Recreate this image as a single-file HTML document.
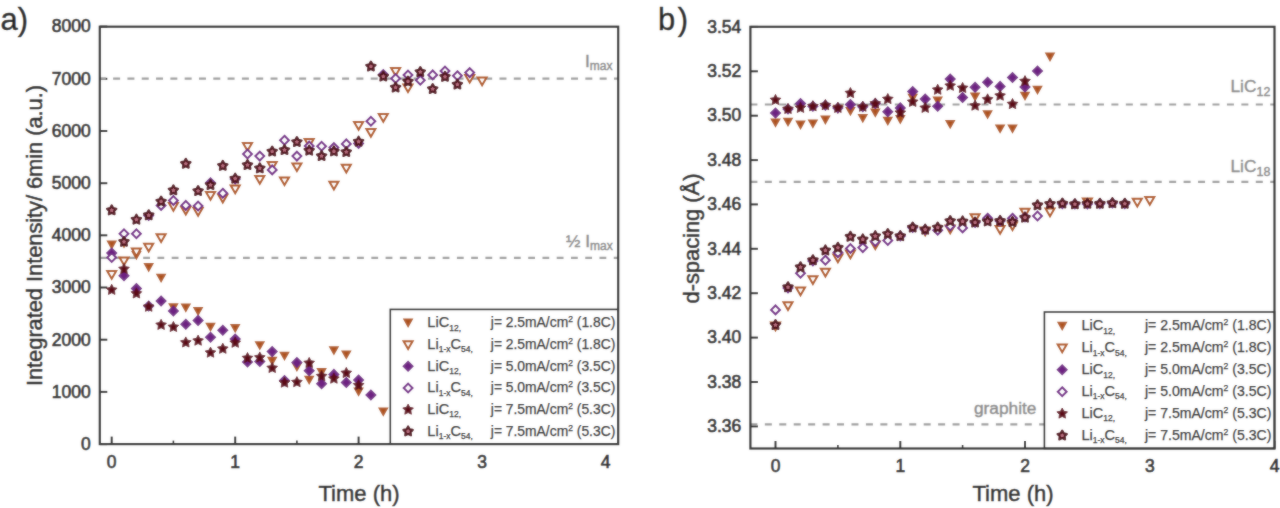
<!DOCTYPE html>
<html><head><meta charset="utf-8"><style>
html,body{margin:0;padding:0;background:#fff;width:1280px;height:508px;overflow:hidden}
svg{display:block}
text{font-family:"Liberation Sans", sans-serif}
.tk{font-size:17.5px;fill:#222;stroke:#222;stroke-width:0.65px}
.ti{font-size:22px;fill:#1a1a1a;stroke:#1a1a1a;stroke-width:0.5px}
.gl{font-size:17.3px;fill:#858585;stroke:#858585;stroke-width:0.4px}
.lg{font-size:14.6px;fill:#262626;stroke:#262626;stroke-width:0.25px}
.pl{font-size:31px;fill:#111;stroke:#111;stroke-width:0.4px}
</style></head><body>
<svg width="1280" height="508" viewBox="0 0 1280 508">

<defs>
 <filter id="bl" x="0" y="0" width="1280" height="508" filterUnits="userSpaceOnUse"><feGaussianBlur stdDeviation="1"/></filter>
 <polygon id="ft" points="-5.3,-4.3 5.3,-4.3 0,5.0" fill="#ad521c"/>
 <polygon id="ot" points="-4.5,-3.4 4.5,-3.4 0,4.3" fill="#fff" stroke="#ad521c" stroke-width="2" stroke-linejoin="miter"/>
 <polygon id="fd" points="0,-5.8 5.8,0 0,5.8 -5.8,0" fill="#6e2382"/>
 <polygon id="od" points="0,-4.4 4.4,0 0,4.4 -4.4,0" fill="#fff" stroke="#6e2382" stroke-width="2"/>
 <polygon id="fs" points="0.00,-5.60 1.70,-2.35 5.33,-1.73 2.76,0.90 3.29,4.53 0.00,2.90 -3.29,4.53 -2.76,0.90 -5.33,-1.73 -1.70,-2.35" fill="#5c0b18" stroke="#5c0b18" stroke-width="0.8" stroke-linejoin="round"/>
 <polygon id="os" points="0.00,-4.90 1.53,-2.10 4.66,-1.51 2.47,0.80 2.88,3.96 0.00,2.60 -2.88,3.96 -2.47,0.80 -4.66,-1.51 -1.53,-2.10" fill="#b87080" stroke="#4a0812" stroke-width="2.2" stroke-linejoin="round"/>
</defs>

<g id="all">
<rect width="1280" height="508" fill="#fff"/>
<line x1="99.8" y1="444.1" x2="107.3" y2="444.1" stroke="#222" stroke-width="2"/>
<text x="90.8" y="449.9" text-anchor="end" class="tk">0</text>
<line x1="99.8" y1="391.9" x2="107.3" y2="391.9" stroke="#222" stroke-width="2"/>
<text x="90.8" y="397.7" text-anchor="end" class="tk">1000</text>
<line x1="99.8" y1="339.7" x2="107.3" y2="339.7" stroke="#222" stroke-width="2"/>
<text x="90.8" y="345.5" text-anchor="end" class="tk">2000</text>
<line x1="99.8" y1="287.5" x2="107.3" y2="287.5" stroke="#222" stroke-width="2"/>
<text x="90.8" y="293.3" text-anchor="end" class="tk">3000</text>
<line x1="99.8" y1="235.3" x2="107.3" y2="235.3" stroke="#222" stroke-width="2"/>
<text x="90.8" y="241.1" text-anchor="end" class="tk">4000</text>
<line x1="99.8" y1="183.2" x2="107.3" y2="183.2" stroke="#222" stroke-width="2"/>
<text x="90.8" y="188.9" text-anchor="end" class="tk">5000</text>
<line x1="99.8" y1="131.0" x2="107.3" y2="131.0" stroke="#222" stroke-width="2"/>
<text x="90.8" y="136.7" text-anchor="end" class="tk">6000</text>
<line x1="99.8" y1="78.8" x2="107.3" y2="78.8" stroke="#222" stroke-width="2"/>
<text x="90.8" y="84.5" text-anchor="end" class="tk">7000</text>
<line x1="99.8" y1="26.6" x2="107.3" y2="26.6" stroke="#222" stroke-width="2"/>
<text x="90.8" y="32.3" text-anchor="end" class="tk">8000</text>
<line x1="111.7" y1="444.1" x2="111.7" y2="436.6" stroke="#222" stroke-width="2"/>
<text x="111.7" y="467.5" text-anchor="middle" class="tk">0</text>
<line x1="235.2" y1="444.1" x2="235.2" y2="436.6" stroke="#222" stroke-width="2"/>
<text x="235.2" y="467.5" text-anchor="middle" class="tk">1</text>
<line x1="358.6" y1="444.1" x2="358.6" y2="436.6" stroke="#222" stroke-width="2"/>
<text x="358.6" y="467.5" text-anchor="middle" class="tk">2</text>
<line x1="482.1" y1="444.1" x2="482.1" y2="436.6" stroke="#222" stroke-width="2"/>
<text x="482.1" y="467.5" text-anchor="middle" class="tk">3</text>
<line x1="605.5" y1="444.1" x2="605.5" y2="436.6" stroke="#222" stroke-width="2"/>
<text x="605.5" y="467.5" text-anchor="middle" class="tk">4</text>
<line x1="173.4" y1="444.1" x2="173.4" y2="440.6" stroke="#222" stroke-width="1.6"/>
<line x1="296.9" y1="444.1" x2="296.9" y2="440.6" stroke="#222" stroke-width="1.6"/>
<line x1="420.3" y1="444.1" x2="420.3" y2="440.6" stroke="#222" stroke-width="1.6"/>
<line x1="543.8" y1="444.1" x2="543.8" y2="440.6" stroke="#222" stroke-width="1.6"/>
<line x1="99.8" y1="78.7" x2="618.2" y2="78.7" stroke="#9a9a9a" stroke-width="2.2" stroke-dasharray="7 7.31" stroke-dashoffset="1"/>
<line x1="99.8" y1="257.8" x2="618.2" y2="257.8" stroke="#9a9a9a" stroke-width="2.2" stroke-dasharray="6.8 7.46" stroke-dashoffset="-0.6"/>
<text x="585" y="66.5" class="gl">I<tspan font-size="12" dy="3.5">max</tspan></text>
<text x="566" y="246.5" class="gl">½ I<tspan font-size="12" dy="3.5">max</tspan></text>
<use href="#ft" x="111.7" y="244.9"/>
<use href="#ft" x="124.0" y="243.5"/>
<use href="#ft" x="136.4" y="255.3"/>
<use href="#ft" x="148.7" y="267.4"/>
<use href="#ft" x="161.1" y="278.0"/>
<use href="#ft" x="173.4" y="307.5"/>
<use href="#ft" x="185.8" y="307.8"/>
<use href="#ft" x="198.1" y="311.3"/>
<use href="#ft" x="210.5" y="327.0"/>
<use href="#ft" x="235.2" y="328.2"/>
<use href="#ft" x="259.8" y="345.5"/>
<use href="#ft" x="272.2" y="361.0"/>
<use href="#ft" x="284.5" y="356.0"/>
<use href="#ft" x="296.9" y="367.0"/>
<use href="#ft" x="309.2" y="380.0"/>
<use href="#ft" x="321.6" y="372.4"/>
<use href="#ft" x="333.9" y="350.5"/>
<use href="#ft" x="346.3" y="354.8"/>
<use href="#ft" x="358.6" y="391.8"/>
<use href="#ft" x="383.3" y="411.7"/>
<use href="#ot" x="111.7" y="274.5"/>
<use href="#ot" x="124.0" y="260.8"/>
<use href="#ot" x="136.4" y="252.0"/>
<use href="#ot" x="148.7" y="247.1"/>
<use href="#ot" x="161.1" y="237.7"/>
<use href="#ot" x="173.4" y="206.5"/>
<use href="#ot" x="185.8" y="210.3"/>
<use href="#ot" x="198.1" y="211.4"/>
<use href="#ot" x="210.5" y="195.5"/>
<use href="#ot" x="222.8" y="198.1"/>
<use href="#ot" x="235.2" y="189.0"/>
<use href="#ot" x="247.5" y="146.4"/>
<use href="#ot" x="259.8" y="179.5"/>
<use href="#ot" x="272.2" y="165.4"/>
<use href="#ot" x="284.5" y="180.8"/>
<use href="#ot" x="296.9" y="166.8"/>
<use href="#ot" x="309.2" y="142.5"/>
<use href="#ot" x="333.9" y="185.2"/>
<use href="#ot" x="346.3" y="168.2"/>
<use href="#ot" x="358.6" y="125.5"/>
<use href="#ot" x="370.9" y="132.5"/>
<use href="#ot" x="383.3" y="117.5"/>
<use href="#ot" x="395.6" y="71.4"/>
<use href="#ot" x="408.0" y="87.8"/>
<use href="#ot" x="469.7" y="78.3"/>
<use href="#ot" x="482.1" y="81.0"/>
<use href="#fd" x="111.7" y="253.1"/>
<use href="#fd" x="124.0" y="275.7"/>
<use href="#fd" x="136.4" y="288.6"/>
<use href="#fd" x="148.7" y="306.0"/>
<use href="#fd" x="161.1" y="301.0"/>
<use href="#fd" x="173.4" y="311.0"/>
<use href="#fd" x="185.8" y="324.3"/>
<use href="#fd" x="198.1" y="320.4"/>
<use href="#fd" x="210.5" y="337.3"/>
<use href="#fd" x="222.8" y="330.3"/>
<use href="#fd" x="235.2" y="339.0"/>
<use href="#fd" x="247.5" y="362.0"/>
<use href="#fd" x="259.8" y="361.4"/>
<use href="#fd" x="272.2" y="351.6"/>
<use href="#fd" x="284.5" y="380.6"/>
<use href="#fd" x="296.9" y="362.5"/>
<use href="#fd" x="309.2" y="370.7"/>
<use href="#fd" x="321.6" y="383.8"/>
<use href="#fd" x="333.9" y="374.4"/>
<use href="#fd" x="346.3" y="382.5"/>
<use href="#fd" x="358.6" y="380.0"/>
<use href="#fd" x="370.9" y="395.0"/>
<use href="#od" x="111.7" y="257.5"/>
<use href="#od" x="124.0" y="233.8"/>
<use href="#od" x="136.4" y="233.8"/>
<use href="#od" x="148.7" y="215.5"/>
<use href="#od" x="161.1" y="205.4"/>
<use href="#od" x="173.4" y="200.5"/>
<use href="#od" x="185.8" y="205.4"/>
<use href="#od" x="198.1" y="206.0"/>
<use href="#od" x="210.5" y="182.8"/>
<use href="#od" x="222.8" y="193.2"/>
<use href="#od" x="235.2" y="179.0"/>
<use href="#od" x="247.5" y="154.0"/>
<use href="#od" x="259.8" y="156.1"/>
<use href="#od" x="272.2" y="169.9"/>
<use href="#od" x="284.5" y="140.2"/>
<use href="#od" x="296.9" y="156.1"/>
<use href="#od" x="309.2" y="146.0"/>
<use href="#od" x="321.6" y="146.3"/>
<use href="#od" x="333.9" y="147.5"/>
<use href="#od" x="346.3" y="143.9"/>
<use href="#od" x="358.6" y="143.4"/>
<use href="#od" x="370.9" y="121.3"/>
<use href="#od" x="383.3" y="74.5"/>
<use href="#od" x="395.6" y="78.5"/>
<use href="#od" x="408.0" y="75.0"/>
<use href="#od" x="420.3" y="80.2"/>
<use href="#od" x="432.7" y="74.9"/>
<use href="#od" x="445.0" y="71.0"/>
<use href="#od" x="457.4" y="75.7"/>
<use href="#od" x="469.7" y="72.6"/>
<use href="#fs" x="111.7" y="289.9"/>
<use href="#fs" x="124.0" y="269.0"/>
<use href="#fs" x="136.4" y="293.5"/>
<use href="#fs" x="148.7" y="306.8"/>
<use href="#fs" x="161.1" y="324.9"/>
<use href="#fs" x="173.4" y="327.0"/>
<use href="#fs" x="185.8" y="342.5"/>
<use href="#fs" x="198.1" y="340.7"/>
<use href="#fs" x="210.5" y="352.7"/>
<use href="#fs" x="222.8" y="348.8"/>
<use href="#fs" x="235.2" y="342.8"/>
<use href="#fs" x="247.5" y="358.1"/>
<use href="#fs" x="259.8" y="357.5"/>
<use href="#fs" x="272.2" y="368.0"/>
<use href="#fs" x="284.5" y="382.7"/>
<use href="#fs" x="296.9" y="382.2"/>
<use href="#fs" x="309.2" y="363.0"/>
<use href="#fs" x="321.6" y="376.2"/>
<use href="#fs" x="333.9" y="378.7"/>
<use href="#fs" x="346.3" y="373.0"/>
<use href="#fs" x="358.6" y="385.3"/>
<use href="#os" x="111.7" y="210.3"/>
<use href="#os" x="124.0" y="241.8"/>
<use href="#os" x="136.4" y="219.6"/>
<use href="#os" x="148.7" y="215.2"/>
<use href="#os" x="161.1" y="201.5"/>
<use href="#os" x="173.4" y="190.3"/>
<use href="#os" x="185.8" y="163.7"/>
<use href="#os" x="198.1" y="191.0"/>
<use href="#os" x="210.5" y="185.0"/>
<use href="#os" x="222.8" y="165.8"/>
<use href="#os" x="235.2" y="178.6"/>
<use href="#os" x="247.5" y="165.0"/>
<use href="#os" x="259.8" y="168.3"/>
<use href="#os" x="272.2" y="151.5"/>
<use href="#os" x="284.5" y="150.0"/>
<use href="#os" x="296.9" y="142.0"/>
<use href="#os" x="309.2" y="150.6"/>
<use href="#os" x="321.6" y="156.0"/>
<use href="#os" x="333.9" y="151.4"/>
<use href="#os" x="346.3" y="152.0"/>
<use href="#os" x="358.6" y="141.6"/>
<use href="#os" x="370.9" y="66.5"/>
<use href="#os" x="383.3" y="76.5"/>
<use href="#os" x="395.6" y="87.5"/>
<use href="#os" x="408.0" y="81.5"/>
<use href="#os" x="420.3" y="72.0"/>
<use href="#os" x="432.7" y="89.0"/>
<use href="#os" x="445.0" y="76.8"/>
<use href="#os" x="457.4" y="84.5"/>
<line x1="750.4" y1="426.4" x2="757.9" y2="426.4" stroke="#222" stroke-width="2"/>
<text x="741.3" y="432.1" text-anchor="end" class="tk">3.36</text>
<line x1="750.4" y1="382.0" x2="757.9" y2="382.0" stroke="#222" stroke-width="2"/>
<text x="741.3" y="387.8" text-anchor="end" class="tk">3.38</text>
<line x1="750.4" y1="337.6" x2="757.9" y2="337.6" stroke="#222" stroke-width="2"/>
<text x="741.3" y="343.4" text-anchor="end" class="tk">3.40</text>
<line x1="750.4" y1="293.2" x2="757.9" y2="293.2" stroke="#222" stroke-width="2"/>
<text x="741.3" y="299.0" text-anchor="end" class="tk">3.42</text>
<line x1="750.4" y1="248.8" x2="757.9" y2="248.8" stroke="#222" stroke-width="2"/>
<text x="741.3" y="254.6" text-anchor="end" class="tk">3.44</text>
<line x1="750.4" y1="204.4" x2="757.9" y2="204.4" stroke="#222" stroke-width="2"/>
<text x="741.3" y="210.2" text-anchor="end" class="tk">3.46</text>
<line x1="750.4" y1="160.1" x2="757.9" y2="160.1" stroke="#222" stroke-width="2"/>
<text x="741.3" y="165.8" text-anchor="end" class="tk">3.48</text>
<line x1="750.4" y1="115.7" x2="757.9" y2="115.7" stroke="#222" stroke-width="2"/>
<text x="741.3" y="121.4" text-anchor="end" class="tk">3.50</text>
<line x1="750.4" y1="71.3" x2="757.9" y2="71.3" stroke="#222" stroke-width="2"/>
<text x="741.3" y="77.0" text-anchor="end" class="tk">3.52</text>
<line x1="750.4" y1="26.9" x2="757.9" y2="26.9" stroke="#222" stroke-width="2"/>
<text x="741.3" y="32.6" text-anchor="end" class="tk">3.54</text>
<line x1="775.5" y1="448.5" x2="775.5" y2="441.0" stroke="#222" stroke-width="2"/>
<text x="775.5" y="472.0" text-anchor="middle" class="tk">0</text>
<line x1="900.3" y1="448.5" x2="900.3" y2="441.0" stroke="#222" stroke-width="2"/>
<text x="900.3" y="472.0" text-anchor="middle" class="tk">1</text>
<line x1="1025.0" y1="448.5" x2="1025.0" y2="441.0" stroke="#222" stroke-width="2"/>
<text x="1025.0" y="472.0" text-anchor="middle" class="tk">2</text>
<line x1="1149.8" y1="448.5" x2="1149.8" y2="441.0" stroke="#222" stroke-width="2"/>
<text x="1149.8" y="472.0" text-anchor="middle" class="tk">3</text>
<line x1="1274.5" y1="448.5" x2="1274.5" y2="441.0" stroke="#222" stroke-width="2"/>
<text x="1274.5" y="472.0" text-anchor="middle" class="tk">4</text>
<line x1="837.9" y1="448.5" x2="837.9" y2="445.0" stroke="#222" stroke-width="1.6"/>
<line x1="962.6" y1="448.5" x2="962.6" y2="445.0" stroke="#222" stroke-width="1.6"/>
<line x1="1087.4" y1="448.5" x2="1087.4" y2="445.0" stroke="#222" stroke-width="1.6"/>
<line x1="1212.2" y1="448.5" x2="1212.2" y2="445.0" stroke="#222" stroke-width="1.6"/>
<line x1="750.4" y1="104.5" x2="1274.5" y2="104.5" stroke="#9a9a9a" stroke-width="2.2" stroke-dasharray="7 7.44" stroke-dashoffset="0"/>
<line x1="750.4" y1="181.9" x2="1274.5" y2="181.9" stroke="#9a9a9a" stroke-width="2.2" stroke-dasharray="7 7.44" stroke-dashoffset="0"/>
<line x1="750.4" y1="424.4" x2="1274.5" y2="424.4" stroke="#9a9a9a" stroke-width="2.2" stroke-dasharray="7 7.44" stroke-dashoffset="0"/>
<text x="1230.5" y="92.3" class="gl">LiC<tspan font-size="12.5" dy="3.8">12</tspan></text>
<text x="1230.5" y="171.8" class="gl">LiC<tspan font-size="12.5" dy="3.8">18</tspan></text>
<text x="974" y="413.5" class="gl">graphite</text>
<use href="#ft" x="775.5" y="122.8"/>
<use href="#ft" x="788.0" y="122.1"/>
<use href="#ft" x="800.5" y="124.9"/>
<use href="#ft" x="812.9" y="123.8"/>
<use href="#ft" x="825.4" y="119.9"/>
<use href="#ft" x="837.9" y="109.0"/>
<use href="#ft" x="850.4" y="111.2"/>
<use href="#ft" x="862.8" y="118.3"/>
<use href="#ft" x="875.3" y="112.8"/>
<use href="#ft" x="887.8" y="121.0"/>
<use href="#ft" x="900.3" y="119.4"/>
<use href="#ft" x="912.7" y="98.0"/>
<use href="#ft" x="937.7" y="100.8"/>
<use href="#ft" x="950.2" y="124.3"/>
<use href="#ft" x="975.1" y="96.8"/>
<use href="#ft" x="987.6" y="114.5"/>
<use href="#ft" x="1000.1" y="128.7"/>
<use href="#ft" x="1012.5" y="128.7"/>
<use href="#ft" x="1025.0" y="96.0"/>
<use href="#ft" x="1037.5" y="90.0"/>
<use href="#ft" x="1050.0" y="56.9"/>
<use href="#ot" x="775.5" y="326.0"/>
<use href="#ot" x="788.0" y="305.6"/>
<use href="#ot" x="800.5" y="291.0"/>
<use href="#ot" x="812.9" y="279.7"/>
<use href="#ot" x="825.4" y="272.1"/>
<use href="#ot" x="837.9" y="258.0"/>
<use href="#ot" x="850.4" y="254.0"/>
<use href="#ot" x="875.3" y="244.8"/>
<use href="#ot" x="925.2" y="231.0"/>
<use href="#ot" x="950.2" y="229.0"/>
<use href="#ot" x="975.1" y="217.6"/>
<use href="#ot" x="1000.1" y="229.5"/>
<use href="#ot" x="1012.5" y="225.8"/>
<use href="#ot" x="1025.0" y="212.2"/>
<use href="#ot" x="1050.0" y="212.0"/>
<use href="#ot" x="1087.4" y="202.0"/>
<use href="#ot" x="1137.3" y="202.1"/>
<use href="#ot" x="1149.8" y="200.4"/>
<use href="#fd" x="775.5" y="113.0"/>
<use href="#fd" x="788.0" y="109.0"/>
<use href="#fd" x="800.5" y="103.6"/>
<use href="#fd" x="812.9" y="106.3"/>
<use href="#fd" x="825.4" y="105.2"/>
<use href="#fd" x="837.9" y="107.9"/>
<use href="#fd" x="850.4" y="104.6"/>
<use href="#fd" x="862.8" y="106.8"/>
<use href="#fd" x="875.3" y="103.5"/>
<use href="#fd" x="887.8" y="111.7"/>
<use href="#fd" x="900.3" y="107.9"/>
<use href="#fd" x="912.7" y="91.5"/>
<use href="#fd" x="925.2" y="99.1"/>
<use href="#fd" x="937.7" y="106.3"/>
<use href="#fd" x="950.2" y="79.1"/>
<use href="#fd" x="962.6" y="97.5"/>
<use href="#fd" x="975.1" y="87.2"/>
<use href="#fd" x="987.6" y="82.2"/>
<use href="#fd" x="1000.1" y="86.4"/>
<use href="#fd" x="1012.5" y="77.5"/>
<use href="#fd" x="1025.0" y="86.9"/>
<use href="#fd" x="1037.5" y="71.0"/>
<use href="#od" x="775.5" y="309.9"/>
<use href="#od" x="788.0" y="288.0"/>
<use href="#od" x="800.5" y="273.2"/>
<use href="#od" x="812.9" y="261.0"/>
<use href="#od" x="825.4" y="260.2"/>
<use href="#od" x="837.9" y="252.6"/>
<use href="#od" x="850.4" y="248.5"/>
<use href="#od" x="862.8" y="247.6"/>
<use href="#od" x="875.3" y="241.5"/>
<use href="#od" x="887.8" y="240.5"/>
<use href="#od" x="900.3" y="236.0"/>
<use href="#od" x="912.7" y="227.5"/>
<use href="#od" x="925.2" y="229.6"/>
<use href="#od" x="937.7" y="230.2"/>
<use href="#od" x="950.2" y="226.0"/>
<use href="#od" x="962.6" y="227.9"/>
<use href="#od" x="975.1" y="222.5"/>
<use href="#od" x="987.6" y="218.2"/>
<use href="#od" x="1000.1" y="221.0"/>
<use href="#od" x="1012.5" y="218.2"/>
<use href="#od" x="1025.0" y="217.0"/>
<use href="#od" x="1037.5" y="216.0"/>
<use href="#od" x="1062.4" y="203.7"/>
<use href="#od" x="1074.9" y="204.0"/>
<use href="#od" x="1087.4" y="204.0"/>
<use href="#od" x="1099.9" y="203.7"/>
<use href="#od" x="1112.4" y="203.0"/>
<use href="#od" x="1124.8" y="203.7"/>
<use href="#fs" x="775.5" y="100.0"/>
<use href="#fs" x="788.0" y="109.0"/>
<use href="#fs" x="800.5" y="107.9"/>
<use href="#fs" x="812.9" y="106.3"/>
<use href="#fs" x="825.4" y="105.2"/>
<use href="#fs" x="837.9" y="107.9"/>
<use href="#fs" x="850.4" y="93.1"/>
<use href="#fs" x="862.8" y="106.8"/>
<use href="#fs" x="875.3" y="103.5"/>
<use href="#fs" x="887.8" y="99.1"/>
<use href="#fs" x="900.3" y="112.8"/>
<use href="#fs" x="912.7" y="101.9"/>
<use href="#fs" x="925.2" y="107.9"/>
<use href="#fs" x="937.7" y="89.8"/>
<use href="#fs" x="950.2" y="85.8"/>
<use href="#fs" x="962.6" y="88.0"/>
<use href="#fs" x="975.1" y="105.7"/>
<use href="#fs" x="987.6" y="99.4"/>
<use href="#fs" x="1000.1" y="95.7"/>
<use href="#fs" x="1012.5" y="104.1"/>
<use href="#fs" x="1025.0" y="81.2"/>
<use href="#os" x="775.5" y="325.0"/>
<use href="#os" x="788.0" y="287.2"/>
<use href="#os" x="800.5" y="267.2"/>
<use href="#os" x="812.9" y="260.2"/>
<use href="#os" x="825.4" y="250.4"/>
<use href="#os" x="837.9" y="247.7"/>
<use href="#os" x="850.4" y="236.7"/>
<use href="#os" x="862.8" y="239.4"/>
<use href="#os" x="875.3" y="236.1"/>
<use href="#os" x="887.8" y="234.0"/>
<use href="#os" x="900.3" y="236.1"/>
<use href="#os" x="912.7" y="227.5"/>
<use href="#os" x="925.2" y="229.6"/>
<use href="#os" x="937.7" y="227.5"/>
<use href="#os" x="950.2" y="221.0"/>
<use href="#os" x="962.6" y="221.4"/>
<use href="#os" x="975.1" y="222.5"/>
<use href="#os" x="987.6" y="221.4"/>
<use href="#os" x="1000.1" y="220.9"/>
<use href="#os" x="1012.5" y="222.0"/>
<use href="#os" x="1025.0" y="217.6"/>
<use href="#os" x="1037.5" y="205.2"/>
<use href="#os" x="1050.0" y="203.9"/>
<use href="#os" x="1062.4" y="203.5"/>
<use href="#os" x="1074.9" y="204.2"/>
<use href="#os" x="1087.4" y="203.7"/>
<use href="#os" x="1099.9" y="203.7"/>
<use href="#os" x="1112.4" y="203.1"/>
<use href="#os" x="1124.8" y="203.7"/>
<rect x="390.3" y="309.4" width="227.90000000000003" height="134.70000000000005" fill="#fff" stroke="#222" stroke-width="1.6"/>
<use href="#ft" x="408.1" y="322.9"/>
<text x="427.3" y="327.1" class="lg">LiC<tspan font-size="8.5" dy="3.5">12,</tspan></text>
<text x="490.8" y="327.1" class="lg" textLength="124.5" lengthAdjust="spacingAndGlyphs">j= 2.5mA/cm<tspan font-size="9" dy="-5">2</tspan><tspan dy="5"> (1.8C)</tspan></text>
<use href="#ot" x="408.1" y="344.6"/>
<text x="427.3" y="348.8" class="lg">Li<tspan font-size="8.5" dy="3.5">1-x</tspan><tspan dy="-3.5">C</tspan><tspan font-size="8.5" dy="3.5">54,</tspan></text>
<text x="490.8" y="348.8" class="lg" textLength="124.5" lengthAdjust="spacingAndGlyphs">j= 2.5mA/cm<tspan font-size="9" dy="-5">2</tspan><tspan dy="5"> (1.8C)</tspan></text>
<use href="#fd" x="408.1" y="366.3"/>
<text x="427.3" y="370.5" class="lg">LiC<tspan font-size="8.5" dy="3.5">12,</tspan></text>
<text x="490.8" y="370.5" class="lg" textLength="124.5" lengthAdjust="spacingAndGlyphs">j= 5.0mA/cm<tspan font-size="9" dy="-5">2</tspan><tspan dy="5"> (3.5C)</tspan></text>
<use href="#od" x="408.1" y="388.0"/>
<text x="427.3" y="392.2" class="lg">Li<tspan font-size="8.5" dy="3.5">1-x</tspan><tspan dy="-3.5">C</tspan><tspan font-size="8.5" dy="3.5">54,</tspan></text>
<text x="490.8" y="392.2" class="lg" textLength="124.5" lengthAdjust="spacingAndGlyphs">j= 5.0mA/cm<tspan font-size="9" dy="-5">2</tspan><tspan dy="5"> (3.5C)</tspan></text>
<use href="#fs" x="408.1" y="409.7"/>
<text x="427.3" y="413.9" class="lg">LiC<tspan font-size="8.5" dy="3.5">12,</tspan></text>
<text x="490.8" y="413.9" class="lg" textLength="124.5" lengthAdjust="spacingAndGlyphs">j= 7.5mA/cm<tspan font-size="9" dy="-5">2</tspan><tspan dy="5"> (5.3C)</tspan></text>
<use href="#os" x="408.1" y="431.4"/>
<text x="427.3" y="435.6" class="lg">Li<tspan font-size="8.5" dy="3.5">1-x</tspan><tspan dy="-3.5">C</tspan><tspan font-size="8.5" dy="3.5">54,</tspan></text>
<text x="490.8" y="435.6" class="lg" textLength="124.5" lengthAdjust="spacingAndGlyphs">j= 7.5mA/cm<tspan font-size="9" dy="-5">2</tspan><tspan dy="5"> (5.3C)</tspan></text>
<rect x="1044.4" y="312.0" width="230.0999999999999" height="136.5" fill="#fff" stroke="#222" stroke-width="1.6"/>
<use href="#ft" x="1062.2" y="326.0"/>
<text x="1081.4" y="330.2" class="lg">LiC<tspan font-size="8.5" dy="3.5">12,</tspan></text>
<text x="1144.9" y="330.2" class="lg" textLength="126.5" lengthAdjust="spacingAndGlyphs">j= 2.5mA/cm<tspan font-size="9" dy="-5">2</tspan><tspan dy="5"> (1.8C)</tspan></text>
<use href="#ot" x="1062.2" y="347.9"/>
<text x="1081.4" y="352.1" class="lg">Li<tspan font-size="8.5" dy="3.5">1-x</tspan><tspan dy="-3.5">C</tspan><tspan font-size="8.5" dy="3.5">54,</tspan></text>
<text x="1144.9" y="352.1" class="lg" textLength="126.5" lengthAdjust="spacingAndGlyphs">j= 2.5mA/cm<tspan font-size="9" dy="-5">2</tspan><tspan dy="5"> (1.8C)</tspan></text>
<use href="#fd" x="1062.2" y="369.8"/>
<text x="1081.4" y="374.0" class="lg">LiC<tspan font-size="8.5" dy="3.5">12,</tspan></text>
<text x="1144.9" y="374.0" class="lg" textLength="126.5" lengthAdjust="spacingAndGlyphs">j= 5.0mA/cm<tspan font-size="9" dy="-5">2</tspan><tspan dy="5"> (3.5C)</tspan></text>
<use href="#od" x="1062.2" y="391.7"/>
<text x="1081.4" y="395.9" class="lg">Li<tspan font-size="8.5" dy="3.5">1-x</tspan><tspan dy="-3.5">C</tspan><tspan font-size="8.5" dy="3.5">54,</tspan></text>
<text x="1144.9" y="395.9" class="lg" textLength="126.5" lengthAdjust="spacingAndGlyphs">j= 5.0mA/cm<tspan font-size="9" dy="-5">2</tspan><tspan dy="5"> (3.5C)</tspan></text>
<use href="#fs" x="1062.2" y="413.6"/>
<text x="1081.4" y="417.8" class="lg">LiC<tspan font-size="8.5" dy="3.5">12,</tspan></text>
<text x="1144.9" y="417.8" class="lg" textLength="126.5" lengthAdjust="spacingAndGlyphs">j= 7.5mA/cm<tspan font-size="9" dy="-5">2</tspan><tspan dy="5"> (5.3C)</tspan></text>
<use href="#os" x="1062.2" y="435.5"/>
<text x="1081.4" y="439.7" class="lg">Li<tspan font-size="8.5" dy="3.5">1-x</tspan><tspan dy="-3.5">C</tspan><tspan font-size="8.5" dy="3.5">54,</tspan></text>
<text x="1144.9" y="439.7" class="lg" textLength="126.5" lengthAdjust="spacingAndGlyphs">j= 7.5mA/cm<tspan font-size="9" dy="-5">2</tspan><tspan dy="5"> (5.3C)</tspan></text>
<rect x="99.8" y="26.7" width="518.4" height="417.4" fill="none" stroke="#222" stroke-width="2.2"/>
<rect x="750.4" y="26.8" width="524.1" height="421.7" fill="none" stroke="#222" stroke-width="2.2"/>
<text x="359" y="500.5" text-anchor="middle" class="ti">Time (h)</text>
<text x="1013" y="500.5" text-anchor="middle" class="ti">Time (h)</text>
<text transform="translate(42,386) rotate(-90)" class="ti" textLength="301" lengthAdjust="spacing">Integrated Intensity/ 6min (a.u.)</text>
<text transform="translate(699,303.5) rotate(-90)" class="ti" textLength="130" lengthAdjust="spacing">d-spacing (Å)</text>
<text x="0.5" y="29.5" class="pl">a)</text>
<text x="658" y="29.5" class="pl">b<tspan dx="2.5">)</tspan></text>
</g>
<use href="#all" filter="url(#bl)" opacity="0.5"/>
</svg>
</body></html>
